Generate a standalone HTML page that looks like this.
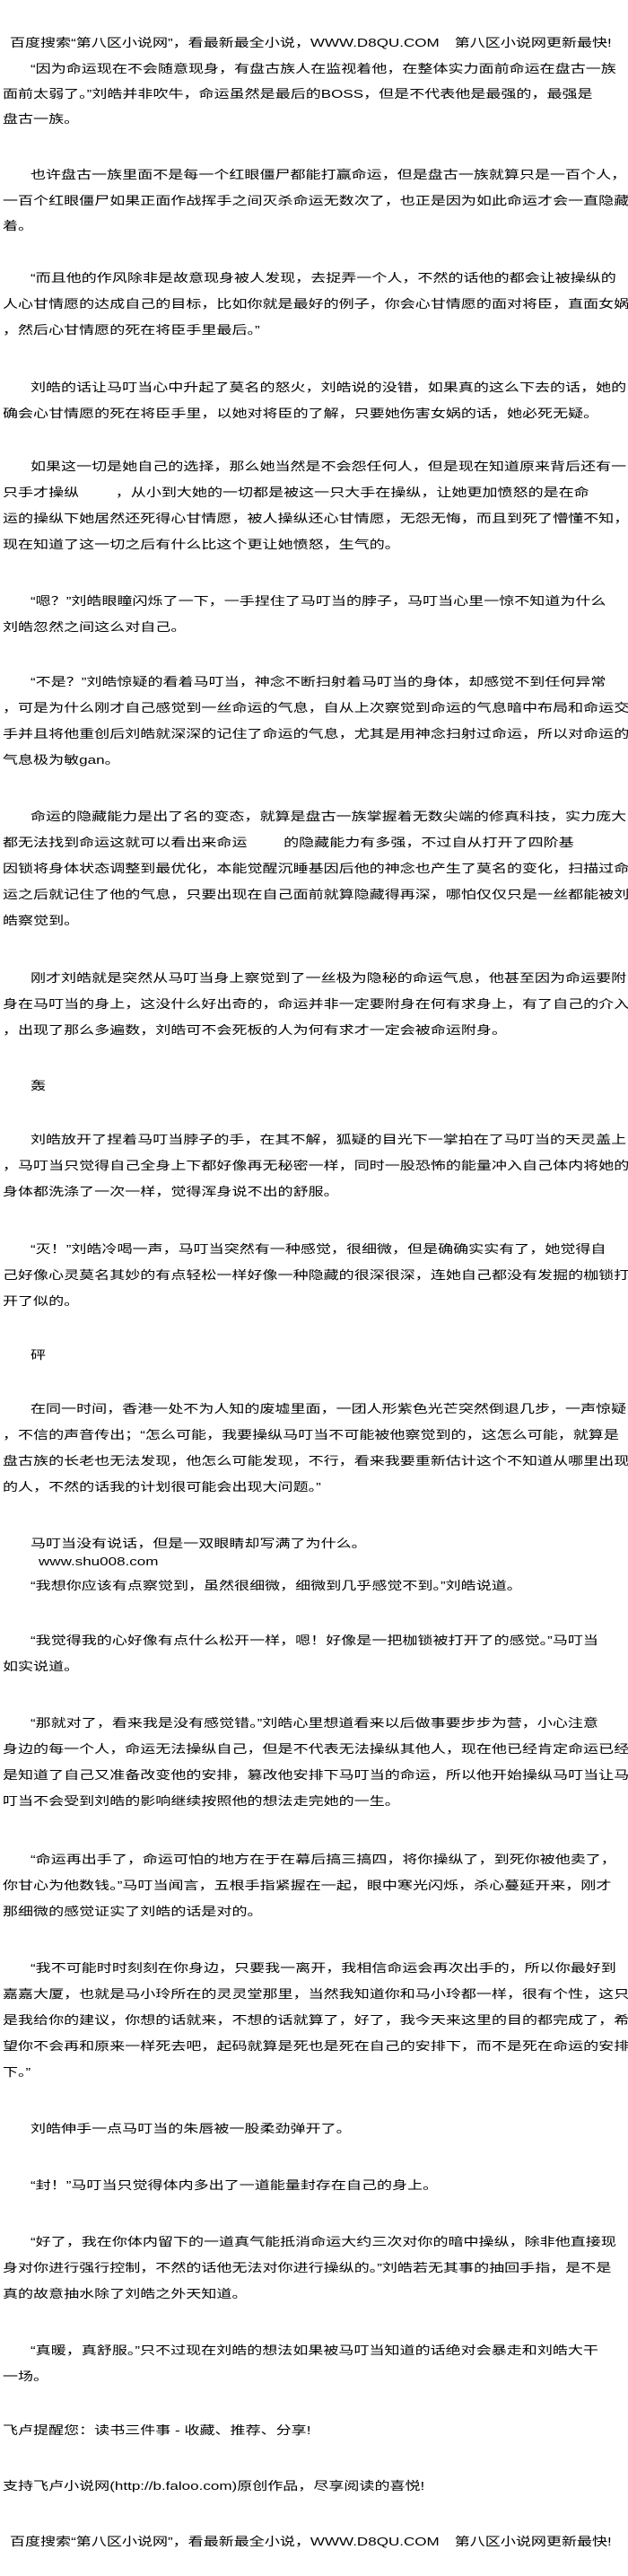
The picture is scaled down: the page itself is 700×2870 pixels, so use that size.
<!DOCTYPE html>
<html><head><meta charset="utf-8">
<style>
html,body{margin:0;padding:0;background:#fff;}
body{width:700px;height:2870px;position:relative;overflow:hidden;}
.l{position:absolute;white-space:nowrap;font-family:"Liberation Sans","Noto Sans CJK SC",sans-serif;font-size:13px;line-height:18px;color:#000;transform:scaleX(1.31);transform-origin:0 0;}
.g{display:inline-block;width:31px;}
</style></head><body>
<div class="l" style="top:39px;left:11px">百度搜索“第八区小说网”，看最新最全小说，WWW.D8QU.COM　第八区小说网更新最快!</div>
<div class="l" style="top:68px;left:34px">“因为命运现在不会随意现身，有盘古族人在监视着他，在整体实力面前命运在盘古一族</div>
<div class="l" style="top:96px;left:3px">面前太弱了。”刘皓并非吹牛，命运虽然是最后的BOSS，但是不代表他是最强的，最强是</div>
<div class="l" style="top:124px;left:3px">盘古一族。</div>
<div class="l" style="top:186px;left:34px">也许盘古一族里面不是每一个红眼僵尸都能打赢命运，但是盘古一族就算只是一百个人，</div>
<div class="l" style="top:215px;left:3px">一百个红眼僵尸如果正面作战挥手之间灭杀命运无数次了，也正是因为如此命运才会一直隐藏</div>
<div class="l" style="top:243px;left:3px">着。</div>
<div class="l" style="top:301px;left:34px">“而且他的作风除非是故意现身被人发现，去捉弄一个人，不然的话他的都会让被操纵的</div>
<div class="l" style="top:330px;left:3px">人心甘情愿的达成自己的目标，比如你就是最好的例子，你会心甘情愿的面对将臣，直面女娲</div>
<div class="l" style="top:359px;left:3px">，然后心甘情愿的死在将臣手里最后。”</div>
<div class="l" style="top:423px;left:34px">刘皓的话让马叮当心中升起了莫名的怒火，刘皓说的没错，如果真的这么下去的话，她的</div>
<div class="l" style="top:452px;left:3px">确会心甘情愿的死在将臣手里，以她对将臣的了解，只要她伤害女娲的话，她必死无疑。</div>
<div class="l" style="top:511px;left:34px">如果这一切是她自己的选择，那么她当然是不会怨任何人，但是现在知道原来背后还有一</div>
<div class="l" style="top:540px;left:3px">只手才操纵<span class="g"></span>，从小到大她的一切都是被这一只大手在操纵，让她更加愤怒的是在命</div>
<div class="l" style="top:569px;left:3px">运的操纵下她居然还死得心甘情愿，被人操纵还心甘情愿，无怨无悔，而且到死了懵懂不知，</div>
<div class="l" style="top:598px;left:3px">现在知道了这一切之后有什么比这个更让她愤怒，生气的。</div>
<div class="l" style="top:661px;left:34px">“嗯？”刘皓眼瞳闪烁了一下，一手捏住了马叮当的脖子，马叮当心里一惊不知道为什么</div>
<div class="l" style="top:690px;left:3px">刘皓忽然之间这么对自己。</div>
<div class="l" style="top:751px;left:34px">“不是？”刘皓惊疑的看着马叮当，神念不断扫射着马叮当的身体，却感觉不到任何异常</div>
<div class="l" style="top:780px;left:3px">，可是为什么刚才自己感觉到一丝命运的气息，自从上次察觉到命运的气息暗中布局和命运交</div>
<div class="l" style="top:809px;left:3px">手并且将他重创后刘皓就深深的记住了命运的气息，尤其是用神念扫射过命运，所以对命运的</div>
<div class="l" style="top:838px;left:3px">气息极为敏gan。</div>
<div class="l" style="top:901px;left:34px">命运的隐藏能力是出了名的变态，就算是盘古一族掌握着无数尖端的修真科技，实力庞大</div>
<div class="l" style="top:930px;left:3px">都无法找到命运这就可以看出来命运<span class="g"></span>的隐藏能力有多强，不过自从打开了四阶基</div>
<div class="l" style="top:959px;left:3px">因锁将身体状态调整到最优化，本能觉醒沉睡基因后他的神念也产生了莫名的变化，扫描过命</div>
<div class="l" style="top:988px;left:3px">运之后就记住了他的气息，只要出现在自己面前就算隐藏得再深，哪怕仅仅只是一丝都能被刘</div>
<div class="l" style="top:1017px;left:3px">皓察觉到。</div>
<div class="l" style="top:1081px;left:34px">刚才刘皓就是突然从马叮当身上察觉到了一丝极为隐秘的命运气息，他甚至因为命运要附</div>
<div class="l" style="top:1110px;left:3px">身在马叮当的身上，这没什么好出奇的，命运并非一定要附身在何有求身上，有了自己的介入</div>
<div class="l" style="top:1139px;left:3px">，出现了那么多遍数，刘皓可不会死板的人为何有求才一定会被命运附身。</div>
<div class="l" style="top:1201px;left:34px">轰</div>
<div class="l" style="top:1261px;left:34px">刘皓放开了捏着马叮当脖子的手，在其不解，狐疑的目光下一掌拍在了马叮当的天灵盖上</div>
<div class="l" style="top:1290px;left:3px">，马叮当只觉得自己全身上下都好像再无秘密一样，同时一股恐怖的能量冲入自己体内将她的</div>
<div class="l" style="top:1319px;left:3px">身体都洗涤了一次一样，觉得浑身说不出的舒服。</div>
<div class="l" style="top:1383px;left:34px">“灭！”刘皓冷喝一声，马叮当突然有一种感觉，很细微，但是确确实实有了，她觉得自</div>
<div class="l" style="top:1412px;left:3px">己好像心灵莫名其妙的有点轻松一样好像一种隐藏的很深很深，连她自己都没有发掘的枷锁打</div>
<div class="l" style="top:1441px;left:3px">开了似的。</div>
<div class="l" style="top:1501px;left:34px">砰</div>
<div class="l" style="top:1561px;left:34px">在同一时间，香港一处不为人知的废墟里面，一团人形紫色光芒突然倒退几步，一声惊疑</div>
<div class="l" style="top:1590px;left:3px">，不信的声音传出；“怎么可能，我要操纵马叮当不可能被他察觉到的，这怎么可能，就算是</div>
<div class="l" style="top:1619px;left:3px">盘古族的长老也无法发现，他怎么可能发现，不行，看来我要重新估计这个不知道从哪里出现</div>
<div class="l" style="top:1648px;left:3px">的人，不然的话我的计划很可能会出现大问题。”</div>
<div class="l" style="top:1711px;left:34px">马叮当没有说话，但是一双眼睛却写满了为什么。</div>
<div class="l" style="top:1731px;left:43px">www.shu008.com</div>
<div class="l" style="top:1758px;left:34px">“我想你应该有点察觉到，虽然很细微，细微到几乎感觉不到。”刘皓说道。</div>
<div class="l" style="top:1819px;left:34px">“我觉得我的心好像有点什么松开一样，嗯！好像是一把枷锁被打开了的感觉。”马叮当</div>
<div class="l" style="top:1848px;left:3px">如实说道。</div>
<div class="l" style="top:1911px;left:34px">“那就对了，看来我是没有感觉错。”刘皓心里想道看来以后做事要步步为营，小心注意</div>
<div class="l" style="top:1940px;left:3px">身边的每一个人，命运无法操纵自己，但是不代表无法操纵其他人，现在他已经肯定命运已经</div>
<div class="l" style="top:1969px;left:3px">是知道了自己又准备改变他的安排，篡改他安排下马叮当的命运，所以他开始操纵马叮当让马</div>
<div class="l" style="top:1998px;left:3px">叮当不会受到刘皓的影响继续按照他的想法走完她的一生。</div>
<div class="l" style="top:2063px;left:34px">“命运再出手了，命运可怕的地方在于在幕后搞三搞四，将你操纵了，到死你被他卖了，</div>
<div class="l" style="top:2092px;left:3px">你甘心为他数钱。”马叮当闻言，五根手指紧握在一起，眼中寒光闪烁，杀心蔓延开来，刚才</div>
<div class="l" style="top:2121px;left:3px">那细微的感觉证实了刘皓的话是对的。</div>
<div class="l" style="top:2184px;left:34px">“我不可能时时刻刻在你身边，只要我一离开，我相信命运会再次出手的，所以你最好到</div>
<div class="l" style="top:2213px;left:3px">嘉嘉大厦，也就是马小玲所在的灵灵堂那里，当然我知道你和马小玲都一样，很有个性，这只</div>
<div class="l" style="top:2242px;left:3px">是我给你的建议，你想的话就来，不想的话就算了，好了，我今天来这里的目的都完成了，希</div>
<div class="l" style="top:2271px;left:3px">望你不会再和原来一样死去吧，起码就算是死也是死在自己的安排下，而不是死在命运的安排</div>
<div class="l" style="top:2300px;left:3px">下。”</div>
<div class="l" style="top:2363px;left:34px">刘皓伸手一点马叮当的朱唇被一股柔劲弹开了。</div>
<div class="l" style="top:2426px;left:34px">“封！”马叮当只觉得体内多出了一道能量封存在自己的身上。</div>
<div class="l" style="top:2489px;left:34px">“好了，我在你体内留下的一道真气能抵消命运大约三次对你的暗中操纵，除非他直接现</div>
<div class="l" style="top:2518px;left:3px">身对你进行强行控制，不然的话他无法对你进行操纵的。”刘皓若无其事的抽回手指，是不是</div>
<div class="l" style="top:2547px;left:3px">真的故意抽水除了刘皓之外天知道。</div>
<div class="l" style="top:2610px;left:34px">“真暖，真舒服。”只不过现在刘皓的想法如果被马叮当知道的话绝对会暴走和刘皓大干</div>
<div class="l" style="top:2639px;left:3px">一场。</div>
<div class="l" style="top:2699px;left:3px">飞卢提醒您：读书三件事 - 收藏、推荐、分享!</div>
<div class="l" style="top:2761px;left:3px">支持飞卢小说网(http://b.faloo.com)原创作品，尽享阅读的喜悦!</div>
<div class="l" style="top:2823px;left:11px">百度搜索“第八区小说网”，看最新最全小说，WWW.D8QU.COM　第八区小说网更新最快!</div>
</body></html>
